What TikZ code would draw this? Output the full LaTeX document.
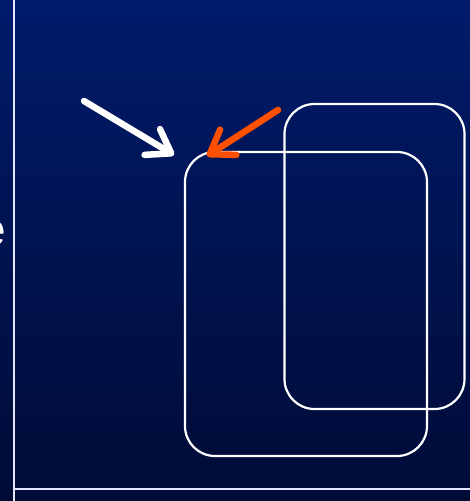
\documentclass[tikz,border=0pt]{standalone}
\usepackage{fontspec}
\setmainfont{Liberation Sans}
\usetikzlibrary{arrows.meta}
\definecolor{bgtop}{RGB}{0,27,107}
\definecolor{bgbot}{RGB}{0,11,54}
\definecolor{orangearrow}{RGB}{255,80,0}
\tikzset{
  frame/.style={draw=white, line width=2.2pt, rounded corners=30pt},
  axis/.style={draw=white!90!blue, line width=2pt},
  pointer/.style={line width=6.5pt, line cap=round, -{Straight Barb[length=22pt,width=30pt,line width=6.5pt, round]}},
}
\begin{document}
\begin{tikzpicture}[x=1pt,y=-1pt]
\useasboundingbox (0,0) rectangle (470,501);
\shade[top color=bgtop, bottom color=bgbot] (0,0) rectangle (470,501);
\begin{scope}
\clip (0,0) rectangle (470,501);
\node[anchor=base east, inner sep=0pt, text=white, font=\fontsize{46}{46}\selectfont] (lbl) at (6,245) {e};
\end{scope}
\coordinate (ytop) at (13.5,0);
\coordinate (ybot) at (13.5,501);
\coordinate (xl) at (13.5,489);
\coordinate (xr) at (470,489);
\draw[axis] (ytop) -- (ybot);
\draw[axis] (xl) -- (xr);
\node[frame, minimum width=180pt, minimum height=305pt, inner sep=0pt] (back) at (374.5,256.5) {};
\node[frame, minimum width=242pt, minimum height=304pt, inner sep=0pt] (front) at (306,304) {};
\coordinate (wstart) at (84,101);
\coordinate (wtip) at (174,155);
\coordinate (ostart) at (278,110);
\coordinate (otip) at (207,156);
\draw[pointer, white] (wstart) -- (wtip);
\draw[pointer, orangearrow] (ostart) -- (otip);
\end{tikzpicture}
\end{document}
